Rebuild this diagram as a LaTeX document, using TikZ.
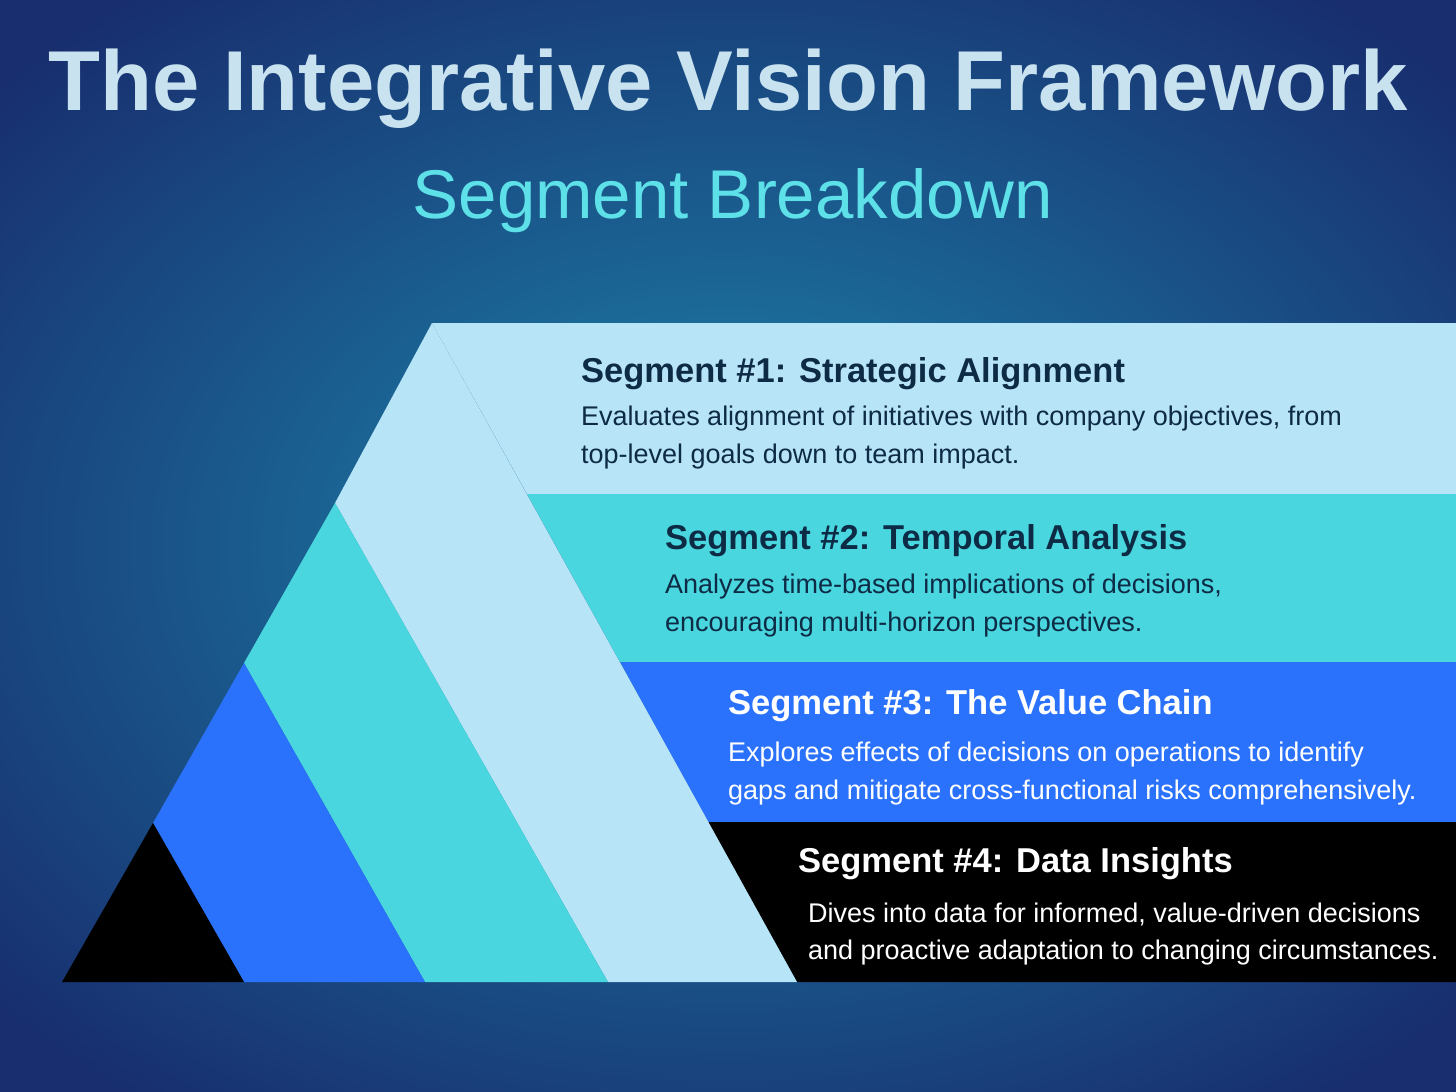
\documentclass[tikz,border=0pt]{standalone}
\usepackage{fontspec}
\setmainfont{Liberation Sans}
\definecolor{lb}{HTML}{B8E4F8}
\definecolor{tl}{HTML}{4AD6DF}
\definecolor{bl}{HTML}{2A72FB}
\definecolor{dk}{HTML}{0D2B45}
\definecolor{ttl}{HTML}{C8E2F0}
\definecolor{sub}{HTML}{5EE0E8}
\begin{document}
\begin{tikzpicture}[x=1pt,y=-1pt,
  hd/.style={anchor=base west,inner sep=0pt,font=\fontsize{34.5}{40}\selectfont\bfseries},
  bd/.style={anchor=base west,inner sep=0pt,font=\fontsize{27}{32}\selectfont}]
\useasboundingbox (0,0) rectangle (1456,1092);
\shade[inner color={rgb,255:red,28;green,135;blue,172},outer color={rgb,255:red,24;green,46;blue,110}] (-250,-150) rectangle (1706,1242);
% bands
\fill[lb] (432,323) -- (1456,323) -- (1456,494) -- (527,494) -- cycle;
\fill[tl] (527,494) -- (1456,494) -- (1456,662) -- (620,662) -- cycle;
\fill[bl] (620,662) -- (1456,662) -- (1456,822) -- (708,822) -- cycle;
\fill[black] (708,822) -- (1456,822) -- (1456,982) -- (797,982) -- cycle;
% pyramid
\fill[lb] (432,323) -- (335,503) -- (608,982) -- (797,982) -- cycle;
\fill[tl] (335,503) -- (244,663) -- (425,982) -- (608,982) -- cycle;
\fill[bl] (244,663) -- (153,823) -- (244,982) -- (425,982) -- cycle;
\fill[black] (153,823) -- (62,982) -- (244,982) -- cycle;
% titles
\node[anchor=base,inner sep=0pt,text=ttl,font=\fontsize{85}{96}\selectfont\bfseries] (title) at (728,110) {The Integrative Vision Framework};
\node[anchor=base,inner sep=0pt,text=sub,font=\fontsize{69}{80}\selectfont] (subt) at (733,218) {Segment Breakdown};
% texts
\node[hd,text=dk] (h1) at (581,382) {Segment \#1: Strategic Alignment};
\node[bd,text=dk] (b1a) at (581,425) {Evaluates alignment of initiatives with company objectives, from};
\node[bd,text=dk] (b1b) at (581,463) {top-level goals down to team impact.};
\node[hd,text=dk] (h2) at (665,549) {Segment \#2: Temporal Analysis};
\node[bd,text=dk] (b2a) at (665,593) {Analyzes time-based implications of decisions,};
\node[bd,text=dk] (b2b) at (665,631) {encouraging multi-horizon perspectives.};
\node[hd,text=white] (h3) at (728,714) {Segment \#3: The Value Chain};
\node[bd,text=white] (b3a) at (728,761) {Explores effects of decisions on operations to identify};
\node[bd,text=white] (b3b) at (728,799) {gaps and mitigate cross-functional risks comprehensively.};
\node[hd,text=white] (h4) at (798,872) {Segment \#4: Data Insights};
\node[bd,text=white] (b4a) at (808,922) {Dives into data for informed, value-driven decisions};
\node[bd,text=white] (b4b) at (808,959) {and proactive adaptation to changing circumstances.};
\end{tikzpicture}
\end{document}
